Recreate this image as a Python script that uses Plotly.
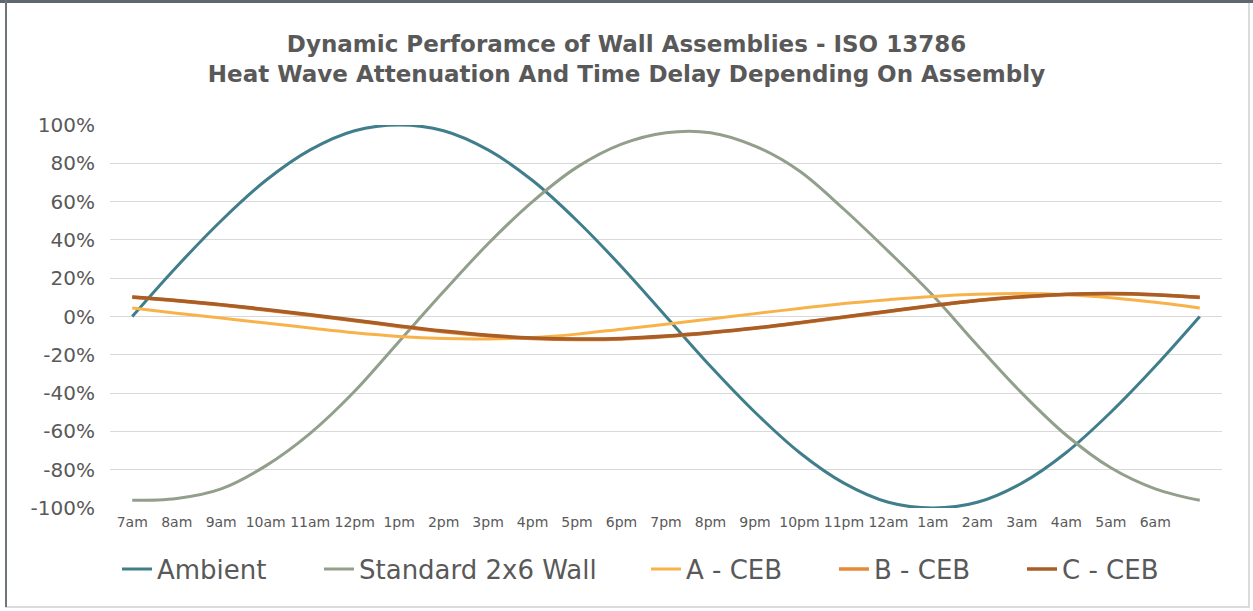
import plotly.graph_objects as go

hours = ["7am", "8am", "9am", "10am", "11am", "12pm", "1pm", "2pm", "3pm", "4pm", "5pm", "6pm",
         "7pm", "8pm", "9pm", "10pm", "11pm", "12am", "1am", "2am", "3am", "4am", "5am", "6am", ""]

ambient = [0, 26, 50, 71, 87, 97, 100, 97, 87, 71, 50, 26, 0,
           -26, -50, -71, -87, -97, -100, -97, -87, -71, -50, -26, 0]
standard_2x6 = [-96, -95, -90, -78, -61, -39, -13, 13, 38, 60, 78, 90, 96,
                96, 89, 76, 56, 34, 11, -15, -40, -62, -79, -90, -96]
a_ceb = [4.4, 1.7, -0.8, -3.4, -6, -8.5, -10.4, -11.5, -11.7, -11, -9.2, -6.6, -4,
         -1.3, 1.5, 4.2, 6.8, 8.8, 10.5, 11.6, 12, 11.4, 9.8, 7.4, 4.4]
b_ceb = [10, 8.2, 6, 3.4, 0.6, -2.2, -5.2, -8, -10.1, -11.5, -12, -11.7, -10.4,
         -8.5, -6.2, -3.4, -0.4, 2.6, 5.6, 8.3, 10.2, 11.5, 11.9, 11.3, 9.9]
c_ceb = [10.2, 8.4, 6.2, 3.7, 0.9, -1.9, -4.9, -7.6, -9.8, -11.2, -11.8, -11.5, -10.2,
         -8.3, -6, -3.2, -0.2, 2.8, 5.8, 8.4, 10.3, 11.6, 12, 11.4, 10]

y_ticks = [-100, -80, -60, -40, -20, 0, 20, 40, 60, 80, 100]
y_labels = ["-100%", "-80%", "-60%", "-40%", "-20%", "0%", "20%", "40%", "60%", "80%", "100%"]

series_names = ["Ambient", "Standard 2x6 Wall", "A - CEB", "B - CEB", "C - CEB"]
series_values = [ambient, standard_2x6, a_ceb, b_ceb, c_ceb]
series_colors = ["#3F7E8A", "#919F8B", "#F8B24A", "#E58A36", "#A85E26"]
series_widths = [3, 3, 3, 3.5, 3.5]

FONT = "DejaVu Sans"
text_color = "#595959"

W, H = 1253, 611
L, R, T, B = 110, 31, 125, 103
pw, ph = W - L - R, H - T - B

def px(xp):
    return (xp - L) / pw

def py(yp):
    return (H - B - yp) / ph

# legend entry left edges (pixels), one legend box per series
legend_left = [117, 319, 646, 834, 1022]
legend_ids = ["legend", "legend2", "legend3", "legend4", "legend5"]

xs = list(range(len(hours)))
fig = go.Figure()
for name, vals, color, w, lid in zip(series_names, series_values, series_colors, series_widths, legend_ids):
    fig.add_trace(go.Scatter(
        x=xs, y=vals, mode="lines", name=name, legend=lid,
        line=dict(color=color, width=w, shape="spline", smoothing=1),
        cliponaxis=False,
    ))

legend_layouts = {}
for lid, left in zip(legend_ids, legend_left):
    legend_layouts[lid] = dict(
        orientation="h", x=px(left), xanchor="left", xref="paper",
        y=py(569), yanchor="middle",
        font=dict(family=FONT, size=26, color=text_color),
        bgcolor="rgba(0,0,0,0)", borderwidth=0,
    )

fig.update_layout(
    width=W, height=H,
    margin=dict(l=L, r=R, t=T, b=B),
    paper_bgcolor="white", plot_bgcolor="white",
    font=dict(family=FONT, color=text_color),
    title=dict(
        text="<b>Dynamic Perforamce of Wall Assemblies - ISO 13786<br>Heat Wave Attenuation And Time Delay Depending On Assembly</b>",
        x=0.5, xref="container", xanchor="center",
        y=1 - 52 / H, yanchor="middle",
        font=dict(family=FONT, size=23, color=text_color),
    ),
    showlegend=True,
    xaxis=dict(
        range=[-0.5, len(hours) - 0.5],
        tickmode="array", tickvals=xs, ticktext=hours,
        showgrid=False, zeroline=False, showline=False,
        tickfont=dict(family=FONT, size=14, color=text_color),
        tickangle=0,
        ticks="", ticklabelstandoff=4,
        fixedrange=True,
    ),
    yaxis=dict(
        range=[-100, 100],
        tickmode="array", tickvals=y_ticks, ticktext=y_labels,
        showgrid=True, gridcolor="#D9D9D9", gridwidth=1,
        zeroline=False, showline=False,
        tickfont=dict(family=FONT, size=20, color=text_color),
        ticks="", ticklabelstandoff=14,
        fixedrange=True,
    ),
    shapes=[
        dict(type="rect", xref="paper", yref="paper",
             x0=px(6), x1=px(1249), y0=py(607), y1=py(1.5),
             line=dict(color="#D0D0D0", width=1.5), layer="below"),
        dict(type="line", xref="paper", yref="paper",
             x0=px(0), x1=px(W), y0=py(1.5), y1=py(1.5),
             line=dict(color="#5F6770", width=3)),
        dict(type="line", xref="paper", yref="paper",
             x0=px(6), x1=px(6), y0=py(0), y1=py(607),
             line=dict(color="#6E747A", width=2)),
    ],
    **legend_layouts,
)

fig.write_html("out.html", config={"displayModeBar": False},
               post_script="document.body.style.margin='0';")
